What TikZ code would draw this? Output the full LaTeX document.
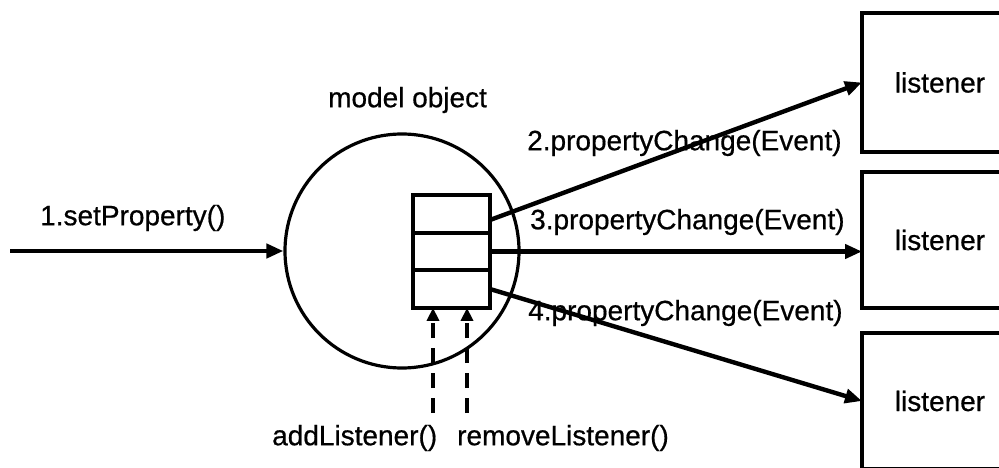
\documentclass[tikz,border=0pt]{standalone}
\usepackage{fontspec}
\setmainfont{Liberation Sans}[FakeBold=0.6]
\usetikzlibrary{arrows.meta}
\begin{document}
\begin{tikzpicture}[x=1pt,y=-1pt,
  every node/.style={font=\fontsize{28}{32}\selectfont},
  txt/.style={inner sep=0pt},
  wire/.style={line width=4.4pt,-{Triangle[length=17pt,width=14pt]}},
  hook/.style={line width=4.2pt,dash pattern=on 15pt off 10pt,-{Triangle[length=13pt,width=12pt]}},
  cell/.style={draw,line width=4.2pt,minimum width=77pt,minimum height=37.7pt,inner sep=0pt,outer sep=0pt},
  listenerbox/.style={minimum width=240pt,inner sep=0pt,outer sep=0pt},
  listenertext/.style={label={[inner sep=0pt,xshift=-42pt]center:listener}},
  boxline/.style={line width=4.6pt}]
\useasboundingbox (0,0) rectangle (999,468);
\clip (0,0) rectangle (999,468);
\fill[white] (0,0) rectangle (999,468);

% the model object and its listener list
\node[draw,circle,line width=3.2pt,minimum size=234pt,inner sep=0pt] (m) at (402,251) {};
\node[txt,anchor=west] (mt) at (328,100) {model object};
\node[cell] (c1) at (451.5,214) {};
\node[cell] (c2) at (451.5,251.5) {};
\node[cell] (c3) at (451.5,289) {};

% listeners (they run on past the right edge)
\node[listenerbox,listenertext,minimum height=139pt] (l1) at (982,82.5) {};
\node[listenerbox,listenertext,minimum height=136pt] (l2) at (982,240) {};
\node[listenerbox,listenertext,minimum height=136pt] (l3) at (982,401) {};
\foreach \b in {l1,l2,l3}
  \draw[boxline] (\b.north east) -- (\b.north west) -- (\b.south west) -- (\b.south east);

% incoming call
\coordinate (in) at (10,251);
\draw[wire] (in) -- (m.west);
\node[txt,anchor=west] (t1) at (40,218) {1.setProperty()};

% notifications
\draw[wire] ([yshift=-6pt]c1.east) -- (l1.west);
\draw[wire] (c2.east) -- (c2.east -| l2.west);
\draw[wire] (c3.east) -- (l3.west);
\node[txt,anchor=west] (t2) at (527,143) {2.propertyChange(Event)};
\node[txt,anchor=west] (t3) at (530,222) {3.propertyChange(Event)};
\node[txt,anchor=west] (t4) at (528,313) {4.propertyChange(Event)};

% registration
\coordinate (a) at (433,413);
\coordinate (r) at (467,413);
\draw[hook] (a) -- (a |- c3.south);
\draw[hook] (r) -- (r |- c3.south);
\node[txt,anchor=west] (ta) at (272,438) {addListener()};
\node[txt,anchor=west] (tr) at (457,438) {removeListener()};
\end{tikzpicture}
\end{document}
